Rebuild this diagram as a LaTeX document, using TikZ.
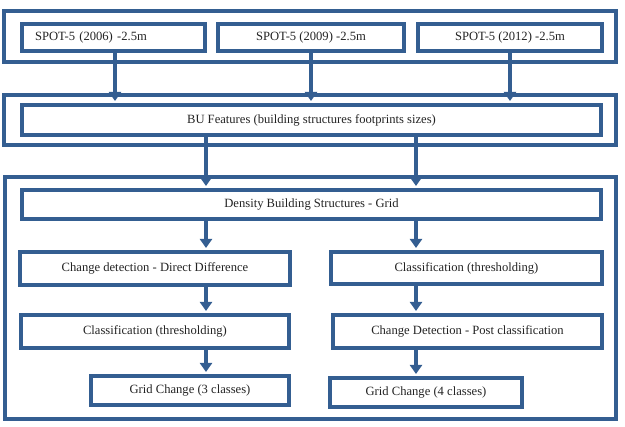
\documentclass[tikz,border=0pt]{standalone}
\usepackage{fontspec}
\setmainfont{Liberation Serif}
\usetikzlibrary{arrows.meta}
\definecolor{frame}{RGB}{52,94,145}
\definecolor{txt}{RGB}{35,35,35}
\tikzset{
  box/.style={draw=frame, line width=4pt, rectangle, inner sep=0pt, text=txt, font=\fontsize{12.6}{14}\selectfont},
  group/.style={draw=frame, line width=4pt, rectangle, inner sep=0pt},
  arr/.style={draw=frame, line width=4pt, -{Triangle[width=12pt,length=9pt]}, shorten >=2pt}
}
\begin{document}
\begin{tikzpicture}[x=1pt,y=-1pt]
\useasboundingbox (0,0) rectangle (625,427);
% group frames
\node[group, minimum width=612pt, minimum height=51pt] (gA) at (310,36.5) {};
\node[group, minimum width=612pt, minimum height=50pt] (gB) at (310,120) {};
\node[group, minimum width=611pt, minimum height=242pt] (gC) at (310.5,298) {};
% top row
\node[box, minimum width=183pt, minimum height=27pt, text width=157pt, align=left] (s1) at (113.5,37.5) {SPOT-5 (2006) -2.5m};
\node[box, minimum width=186pt, minimum height=27pt] (s2) at (311,37.5) {SPOT-5 (2009) -2.5m};
\node[box, minimum width=184pt, minimum height=27pt] (s3) at (510,37.5) {SPOT-5 (2012) -2.5m};
% BU
\node[box, minimum width=579pt, minimum height=30pt] (bu) at (311.5,120) {BU Features (building structures footprints sizes)};
% density
\node[box, minimum width=579pt, minimum height=29pt] (den) at (311.5,204.5) {Density Building Structures - Grid};
% left column
\node[box, minimum width=270pt, minimum height=33pt] (cd) at (155,268.5) {Change detection - Direct Difference};
\node[box, minimum width=268pt, minimum height=33pt] (clL) at (155,331.5) {Classification (thresholding)};
\node[box, minimum width=198pt, minimum height=29pt] (g3) at (190,390.5) {Grid Change (3 classes)};
% right column
\node[box, minimum width=271pt, minimum height=32pt] (clR) at (466.5,268) {Classification (thresholding)};
\node[box, minimum width=269pt, minimum height=33pt] (cp) at (467.5,331.5) {Change Detection - Post classification};
\node[box, minimum width=192pt, minimum height=29pt] (g4) at (426,392.5) {Grid Change (4 classes)};
% column coordinates
\coordinate (xL) at (206,0);
\coordinate (xR) at (416,0);
\coordinate (x1) at (115,0);
% arrows
\draw[arr] (s1.south -| x1) -- (bu.north -| x1);
\draw[arr] (s2.south) -- (s2.south |- bu.north);
\draw[arr] (s3.south) -- (s3.south |- bu.north);
\draw[arr] (bu.south -| xL) -- (den.north -| xL);
\draw[arr] (bu.south -| xR) -- (den.north -| xR);
\draw[arr] (den.south -| xL) -- (cd.north -| xL);
\draw[arr] (cd.south -| xL) -- (clL.north -| xL);
\draw[arr] (clL.south -| xL) -- (g3.north -| xL);
\draw[arr] (den.south -| xR) -- (clR.north -| xR);
\draw[arr] (clR.south -| xR) -- (cp.north -| xR);
\draw[arr] (cp.south -| xR) -- (g4.north -| xR);
\end{tikzpicture}
\end{document}
